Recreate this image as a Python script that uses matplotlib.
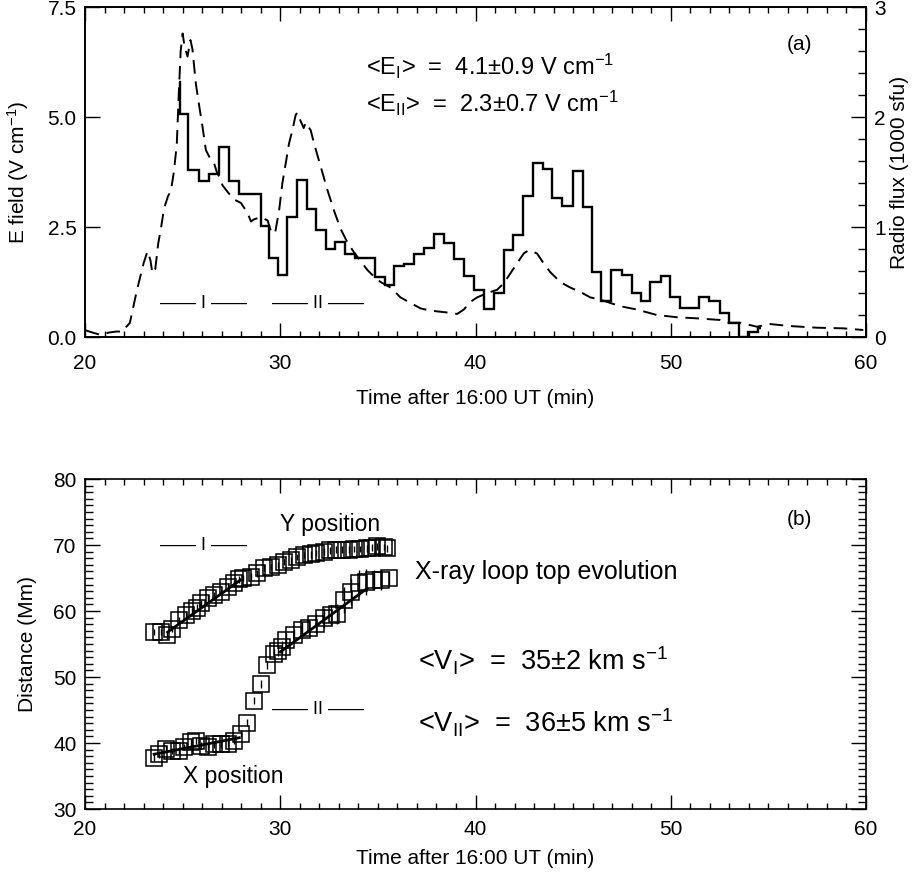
import numpy as np
import matplotlib
matplotlib.use("Agg")
import matplotlib.pyplot as plt
from matplotlib.ticker import MultipleLocator, FormatStrFormatter

plt.rcParams['font.family'] = ['Liberation Sans', 'DejaVu Sans']
plt.rcParams['mathtext.fontset'] = 'custom'
plt.rcParams['mathtext.rm'] = 'Liberation Sans'
plt.rcParams['mathtext.it'] = 'Liberation Sans'

# --- panel (a): electric field (step histogram) ---
efield_edges = [24.80, 24.88, 25.30, 25.84, 26.35, 26.86, 27.37, 27.88, 28.40, 28.99,
                29.40, 29.88, 30.37, 30.88, 31.36, 31.82, 32.34, 32.81, 33.32, 33.83,
                34.35, 34.85, 35.36, 35.82, 36.33, 36.84, 37.36, 37.87, 38.38, 38.89,
                39.43, 39.94, 40.45, 40.93, 41.44, 41.92, 42.43, 42.94, 43.44, 43.93,
                44.44, 44.99, 45.48, 45.96, 46.44, 46.96, 47.50, 48.01, 48.48, 48.95,
                49.51, 49.97, 50.45, 50.96, 51.47, 51.98, 52.50, 52.96, 53.47, 53.98,
                54.45, 54.60]
efield_vals = [5.80, 5.07, 3.80, 3.55, 3.70, 4.33, 3.55, 3.24, 3.24, 2.53,
               1.79, 1.41, 2.73, 3.56, 2.92, 2.43, 1.99, 2.15, 1.89, 1.79,
               1.79, 1.36, 1.18, 1.61, 1.67, 1.89, 2.03, 2.34, 2.13, 1.77,
               1.39, 1.08, 0.63, 1.01, 1.98, 2.32, 3.20, 3.95, 3.82, 3.17,
               2.98, 3.77, 2.96, 1.48, 0.82, 1.52, 1.42, 0.99, 0.83, 1.26,
               1.39, 0.90, 0.65, 0.65, 0.90, 0.83, 0.54, 0.31, 0.00, 0.12,
               0.21]

# --- panel (a): radio flux (1000 sfu), dashed ---
radio_t = [20.05, 20.4, 20.8, 21.2, 21.6, 21.9, 22.3, 22.65, 23.0, 23.2,
           23.35, 23.45, 23.6, 23.75, 23.9, 24.05, 24.25, 24.4, 24.55, 24.7,
           24.8, 24.9, 25.0, 25.1, 25.25, 25.4, 25.5, 25.68, 25.85, 26.02,
           26.19, 26.36, 26.61, 26.75, 26.9, 27.04, 27.3, 27.64, 27.98, 28.32,
           28.5, 28.65, 29.0, 29.35, 29.51, 29.73, 29.94, 30.11, 30.28, 30.45,
           30.62, 30.79, 30.88, 31.05, 31.2, 31.3, 31.56, 31.73, 32.07, 32.41,
           32.75, 33.1, 33.44, 33.78, 34.12, 34.46, 34.8, 35.14, 35.65, 36.16,
           36.67, 37.19, 37.7, 38.21, 38.72, 39.06, 39.4, 39.74, 40.08, 40.6,
           41.11, 41.45, 41.79, 42.13, 42.47, 42.73, 43.15, 43.49, 43.83, 44.34,
           44.85, 45.37, 45.88, 46.39, 46.9, 47.42, 48.27, 49.29, 50.32, 51.34,
           52.53, 52.87, 53.55, 54.41, 55.09, 56.11, 57.48, 58.84, 59.86]
radio_f = [0.06, 0.04, 0.02, 0.04, 0.05, 0.05, 0.13, 0.42, 0.67, 0.78,
           0.70, 0.58, 0.62, 0.85, 1.00, 1.17, 1.28, 1.33, 1.50, 1.75,
           2.20, 2.60, 2.76, 2.64, 2.55, 2.70, 2.62, 2.30, 2.10, 1.91,
           1.70, 1.64, 1.58, 1.50, 1.45, 1.38, 1.32, 1.25, 1.22, 1.13,
           1.05, 1.07, 1.09, 1.06, 0.97, 0.94, 1.15, 1.40, 1.58, 1.76,
           1.88, 2.02, 2.04, 1.96, 1.90, 1.95, 1.88, 1.76, 1.55, 1.34,
           1.15, 0.98, 0.86, 0.77, 0.69, 0.61, 0.55, 0.50, 0.45, 0.36,
           0.31, 0.26, 0.24, 0.23, 0.22, 0.21, 0.25, 0.32, 0.36, 0.40,
           0.43, 0.49, 0.58, 0.67, 0.76, 0.79, 0.76, 0.67, 0.59, 0.50,
           0.45, 0.41, 0.36, 0.34, 0.31, 0.28, 0.25, 0.20, 0.18, 0.17,
           0.155, 0.13, 0.13, 0.094, 0.118, 0.10, 0.085, 0.079, 0.064]

# --- panel (b): loop top positions (Mm) ---
ypos_t = [23.54, 23.88, 24.19, 24.48, 24.82, 25.16, 25.50, 25.75, 25.93, 26.28,
          26.62, 26.96, 27.30, 27.64, 27.90, 28.10, 28.49, 28.83, 29.17, 29.51,
          29.86, 30.20, 30.54, 30.88, 31.22, 31.55, 31.85, 32.24, 32.55, 32.85,
          33.18, 33.50, 33.80, 34.10, 34.46, 34.70, 34.97, 35.30, 35.48]
ypos_d = [56.8, 56.8, 56.3, 57.3, 58.6, 59.4, 60.0, 60.5, 61.2, 61.9,
          62.4, 62.9, 63.7, 64.2, 64.8, 65.0, 65.2, 65.7, 66.5, 66.7,
          67.0, 67.5, 67.7, 68.2, 68.5, 68.6, 68.8, 69.0, 69.2, 69.3,
          69.3, 69.3, 69.4, 69.4, 69.5, 69.6, 69.8, 69.7, 69.5]
ypos_err = [0.5] * len(ypos_t)

xpos_t = [23.51, 23.80, 24.14, 24.48, 24.82, 25.08, 25.42, 25.68, 25.93, 26.28,
          26.62, 26.96, 27.30, 27.64, 27.98, 28.32, 28.66, 29.00, 29.31, 29.69,
          29.86, 30.11, 30.28, 30.70, 31.13, 31.47, 31.81, 32.24, 32.58, 32.93,
          33.27, 33.60, 34.03, 34.37, 34.80, 35.14, 35.57]
xpos_d = [37.8, 38.3, 39.1, 38.8, 38.8, 39.4, 40.1, 40.35, 39.6, 39.4,
          39.8, 39.8, 39.9, 40.35, 41.4, 43.1, 46.4, 49.0, 51.8, 53.5,
          54.0, 54.5, 55.6, 56.3, 57.1, 57.4, 58.1, 58.9, 59.4, 59.6,
          61.7, 62.9, 64.2, 64.4, 64.7, 64.7, 65.0]
xpos_err = [0.5, 0.5, 0.5, 0.5, 0.5, 0.5, 0.5, 0.5, 0.5, 0.5,
            0.5, 0.5, 0.5, 0.5, 0.5, 0.5, 0.5, 0.6, 0.6, 0.8,
            0.8, 1.0, 1.0, 1.0, 1.2, 1.2, 1.5, 1.5, 1.5, 1.5,
            2.0, 2.0, 2.0, 2.0, 1.5, 1.5, 1.0]

# linear fits (start/end) for intervals I and II
fit_yI_t, fit_yI_d = [24.23, 27.96], [56.8, 64.7]
fit_xI_t, fit_xI_d = [23.54, 27.90], [38.3, 40.8]
fit_xII_t, fit_xII_d = [30.00, 34.44], [53.8, 63.4]


fig = plt.figure(figsize=(9.17, 8.83), dpi=100)
ax1 = fig.add_axes([0.0927, 0.6183, 0.8517, 0.3737])
ax2 = fig.add_axes([0.0927, 0.0838, 0.8517, 0.3737])

fs = 15     # axis labels / ticks
fa = 17     # annotations

ax1.stairs(efield_vals, efield_edges, baseline=None, color='k', lw=1.7)
ax1.set_xlim(20, 60)
ax1.set_ylim(0, 7.5)
ax1.yaxis.set_major_locator(MultipleLocator(2.5))
ax1.yaxis.set_major_formatter(FormatStrFormatter('%.1f'))
ax1.set_ylabel('E field (V cm$^{-1}$)', fontsize=fs, labelpad=12)
ax1.set_xlabel('Time after 16:00 UT (min)', fontsize=fs, labelpad=12)

axr = ax1.twinx()
axr.plot(radio_t, radio_f, color='k', lw=1.4, ls=(0, (7, 4)))
axr.set_ylim(0, 3)
axr.yaxis.set_major_locator(MultipleLocator(1))
axr.yaxis.set_minor_locator(MultipleLocator(0.2))
axr.set_ylabel('Radio flux (1000 sfu)', fontsize=fs, labelpad=3)
axr.tick_params(axis='y', which='major', direction='in', length=11, width=1, labelsize=fs, pad=6)
axr.tick_params(axis='y', which='minor', direction='in', length=6, width=1)

for ax in (ax1, ax2):
    ax.xaxis.set_major_locator(MultipleLocator(10))
    ax.xaxis.set_minor_locator(MultipleLocator(1))
    ax.tick_params(axis='x', which='major', direction='in', top=True, length=10, width=1,
                   labelsize=fs, pad=12)
    ax.tick_params(axis='x', which='minor', direction='in', top=True, length=4, width=1)
    ax.tick_params(axis='y', which='major', direction='in', length=11, width=1, labelsize=fs, pad=6)
    for s in ax.spines.values():
        s.set_linewidth(1.2)
for s in axr.spines.values():
    s.set_linewidth(1.2)

ax1.text(56.6, 6.66, '(a)', fontsize=fs, ha='center', va='center')
ax1.text(34.4, 6.16, '<E$_{\\rm I}$>  =  4.1\u00b10.9 V cm$^{-1}$', fontsize=fa,
         ha='left', va='center')
ax1.text(34.4, 5.30, '<E$_{\\rm II}$>  =  2.3\u00b10.7 V cm$^{-1}$', fontsize=fa,
         ha='left', va='center')
ax1.text(26.05, 0.77, '\u2014\u2014 I \u2014\u2014', fontsize=13, ha='center', va='center')
ax1.text(31.95, 0.77, '\u2014\u2014 II \u2014\u2014', fontsize=13, ha='center', va='center')

# panel (b)
ax2.errorbar(ypos_t, ypos_d, yerr=ypos_err, fmt='s', ms=11, mfc='none', mec='k',
             mew=1.1, ecolor='k', elinewidth=1, capsize=0)
ax2.errorbar(xpos_t, xpos_d, yerr=xpos_err, fmt='s', ms=11, mfc='none', mec='k',
             mew=1.1, ecolor='k', elinewidth=1, capsize=0)
ax2.plot(fit_yI_t, fit_yI_d, color='k', lw=2)
ax2.plot(fit_xI_t, fit_xI_d, color='k', lw=2)
ax2.plot(fit_xII_t, fit_xII_d, color='k', lw=2)
ax2.set_xlim(20, 60)
ax2.set_ylim(30, 80)
ax2.yaxis.set_major_locator(MultipleLocator(10))
ax2.yaxis.set_minor_locator(MultipleLocator(1))
ax2.tick_params(axis='x', which='major', pad=8)
ax2.tick_params(axis='y', which='major', right=True)
ax2.tick_params(axis='y', which='minor', direction='in', right=True, length=6, width=1)
ax2.set_ylabel('Distance (Mm)', fontsize=fs, labelpad=12)
ax2.set_xlabel('Time after 16:00 UT (min)', fontsize=fs, labelpad=7)

ax2.text(56.6, 73.8, '(b)', fontsize=fs, ha='center', va='center')
ax2.text(30.0, 73.1, 'Y position', fontsize=16.5, ha='left', va='center')
ax2.text(25.0, 35.0, 'X position', fontsize=16.5, ha='left', va='center')
ax2.text(36.9, 65.9, 'X-ray loop top evolution', fontsize=18, ha='left', va='center')
ax2.text(37.05, 52.5, '<V$_{\\rm I}$>  =  35\u00b12 km s$^{-1}$', fontsize=19.5,
         ha='left', va='center')
ax2.text(37.05, 43.1, '<V$_{\\rm II}$>  =  36\u00b15 km s$^{-1}$', fontsize=19.5,
         ha='left', va='center')
ax2.text(26.05, 70.0, '\u2014\u2014 I \u2014\u2014', fontsize=13, ha='center', va='center')
ax2.text(31.95, 45.1, '\u2014\u2014 II \u2014\u2014', fontsize=13, ha='center', va='center')

fig.savefig('out.png', dpi=100)
